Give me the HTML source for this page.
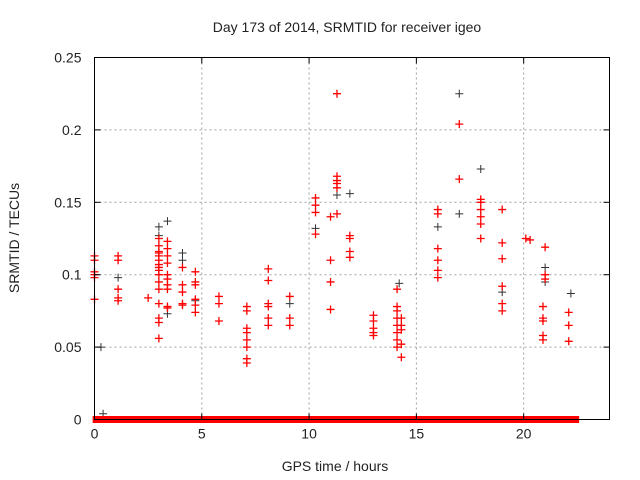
<!DOCTYPE html>
<html><head><meta charset="utf-8"><style>
body{margin:0;background:#fff;}
svg{display:block;font-family:"Liberation Sans",sans-serif;}
</style></head><body>
<svg id="chart" width="640" height="480" viewBox="0 0 640 480" xmlns="http://www.w3.org/2000/svg">
<rect width="640" height="480" fill="#fff"/>
<text x="347" y="32" font-size="14" text-anchor="middle" fill="#222">Day 173 of 2014, SRMTID for receiver igeo</text>
<text transform="translate(19,238) rotate(-90)" font-size="14" text-anchor="middle" fill="#222">SRMTID / TECUs</text>
<text x="335" y="471" font-size="14" text-anchor="middle" fill="#222">GPS time / hours</text>
<g id="grid"></g><g id="marks"></g><g id="axes"></g>
</svg>
<script>
const xTicks=[0,5,10,15,20];
const yTicks=[0,0.05,0.1,0.15,0.2,0.25];
const yTickLabels=["0","0.05","0.1","0.15","0.2","0.25"];
const redX=[0,0,0,0,0,0,1.1,1.1,1.1,1.1,1.1,2.5,
3,3,3,3,3,3,3,3,3,3,3,3,3,3,3,3,
3.4,3.4,3.4,3.4,3.4,3.4,3.4,3.4,3.4,3.4,
4.1,4.1,4.1,4.1,4.1,4.7,4.7,4.7,4.7,4.7,4.7,5.8,5.8,5.8,
7.1,7.1,7.1,7.1,7.1,7.1,7.1,7.1,8.1,8.1,8.1,8.1,8.1,8.1,9.1,9.1,9.1,
10.3,10.3,10.3,10.3,11.0,11.0,11.0,11.0,11.3,11.3,11.3,11.3,11.3,11.3,11.9,11.9,11.9,11.9,
13,13,13,13,13,14.1,14.1,14.1,14.1,14.1,14.1,14.1,14.1,14.3,14.3,14.3,14.3,14.3,
16,16,16,16,16,16,17,17,18,18,18,18,18,18,19,19,19,19,19,19,20.1,20.3,
21,21,21,20.9,20.9,20.9,20.9,20.9,22.1,22.1,22.1];
const redY=[0.113,0.11,0.102,0.1,0.098,0.083,0.113,0.11,0.09,0.084,0.082,0.084,
0.125,0.12,0.116,0.115,0.113,0.11,0.107,0.105,0.103,0.1,0.095,0.09,0.08,0.07,0.067,0.056,
0.123,0.118,0.113,0.108,0.1,0.097,0.093,0.09,0.078,0.077,
0.105,0.093,0.088,0.08,0.079,0.102,0.095,0.093,0.083,0.079,0.074,0.085,0.08,0.068,
0.078,0.075,0.063,0.06,0.055,0.05,0.042,0.039,0.104,0.096,0.08,0.078,0.07,0.065,0.085,0.07,0.065,
0.153,0.148,0.143,0.128,0.14,0.11,0.095,0.076,0.225,0.168,0.165,0.163,0.16,0.142,0.127,0.125,0.116,0.112,
0.072,0.068,0.063,0.06,0.058,0.09,0.078,0.075,0.07,0.065,0.06,0.055,0.05,0.07,0.065,0.062,0.052,0.043,
0.145,0.142,0.118,0.11,0.103,0.098,0.204,0.166,0.152,0.15,0.145,0.14,0.135,0.125,0.145,0.122,0.111,0.092,0.08,0.075,0.125,0.124,
0.119,0.1,0.097,0.078,0.07,0.068,0.058,0.055,0.074,0.065,0.054];
const blackX=[0.3,0.4,1.1,3,3,3.4,3.4,4.1,4.1,4.7,9.1,10.3,11.3,11.9,14.2,16,17,17,18,19,21,21,22.2];
const blackY=[0.05,0.004,0.098,0.133,0.127,0.137,0.073,0.115,0.11,0.082,0.08,0.132,0.155,0.156,0.094,0.133,0.225,0.142,0.173,0.088,0.105,0.095,0.087];
const zeroX=[0.1,0.25,0.4,0.54,0.72,0.88,1.06,1.19,1.35,1.5,1.73,1.9,2.05,2.2,2.35,2.48,2.71,2.85,3.0,3.2,3.36,3.47,3.6,3.75,3.9,4.05,4.14,4.3,4.45,4.58,4.75,4.89,5.07,5.2,5.35,5.5,5.66,5.85,5.97,6.12,6.3,6.47,6.56,6.7,6.85,7.0,7.09,7.28,7.45,7.6,7.75,7.9,8.02,8.1,8.25,8.41,8.54,8.7,8.85,9.05,9.16,9.3,9.42,9.6,9.75,9.9,10.05,10.2,10.35,10.5,10.7,10.85,11.0,11.15,11.35,11.5,11.65,11.8,12.0,12.15,12.3,12.45,12.6,12.8,12.95,13.1,13.25,13.45,13.6,13.75,13.9,14.1,14.25,14.4,14.6,14.75,14.9,15.05,15.3,15.45,15.6,15.75,15.95,16.1,16.25,16.4,16.6,16.75,16.9,17.05,17.2,17.4,17.55,17.7,17.85,18.0,18.2,18.35,18.5,18.65,18.85,19.0,19.15,19.3,19.5,19.65,19.8,19.95,20.1,20.2,20.45,20.6,20.75,20.85,21.05,21.2,21.3,21.5,21.65,21.8,21.95,22.1,22.25,22.4];
const L=94.5,R=609.5,T=57.5,B=419.5;
const sx=v=>L+(v/24)*(R-L);
const sy=v=>B-(v/0.25)*(B-T);
const NS="http://www.w3.org/2000/svg";
function mk(tag,attrs,parent){const e=document.createElementNS(NS,tag);for(const k in attrs)e.setAttribute(k,attrs[k]);parent.appendChild(e);return e;}
const grid=document.getElementById('grid'),marks=document.getElementById('marks'),axes=document.getElementById('axes');
xTicks.forEach(t=>{
  const x=sx(t);
  if(t>0){const g=mk('line',{x1:x,x2:x,y1:T,y2:B,stroke:'#a0a0a0','stroke-dasharray':'2,3'},grid);
  
  }
  const tl=mk('line',{x1:x,x2:x,y1:B,y2:B-6,stroke:'#000'},axes);
  
  
  const tt=mk('line',{x1:x,x2:x,y1:T,y2:T+6,stroke:'#000'},axes);
  
  
  const lab=mk('text',{x:x,y:B+19,'font-size':14,'text-anchor':'middle',fill:'#222'},axes);
  lab.textContent=String(t);
  
  
});
yTicks.forEach((t,i)=>{
  const y=sy(t);
  if(t>0&&t<0.25){const g=mk('line',{x1:L,x2:R,y1:y,y2:y,stroke:'#a0a0a0','stroke-dasharray':'2,3'},grid);
  
  }
  const tl=mk('line',{x1:L,x2:L+6,y1:y,y2:y,stroke:'#000'},axes);
  
  
  const tr=mk('line',{x1:R,x2:R-6,y1:y,y2:y,stroke:'#000'},axes);
  
  
  const lab=mk('text',{x:L-13,y:y+5,'font-size':14,'text-anchor':'end',fill:'#222'},axes);
  lab.textContent=yTickLabels[i];
  
  
});
function plus(x,y,color,name,w){
  const p=mk('path',{d:`M${x-4},${y}h8M${x},${y-4}v8`,stroke:color,'stroke-width':w,fill:'none'},marks);
  
  
}
blackX.forEach((v,i)=>plus(sx(v),sy(blackY[i]),'#333','black-point',1));
redX.forEach((v,i)=>plus(sx(v),sy(redY[i]),'#f00','red-point',1.3));
zeroX.forEach(v=>{
  const r=mk('rect',{x:sx(v)-4,y:sy(0)-3.5,width:8,height:7,fill:'#f00'},marks);
  
  
});
const frame=mk('rect',{x:L,y:T,width:R-L,height:B-T,fill:'none',stroke:'#000'},axes);


</script>
</body></html>
